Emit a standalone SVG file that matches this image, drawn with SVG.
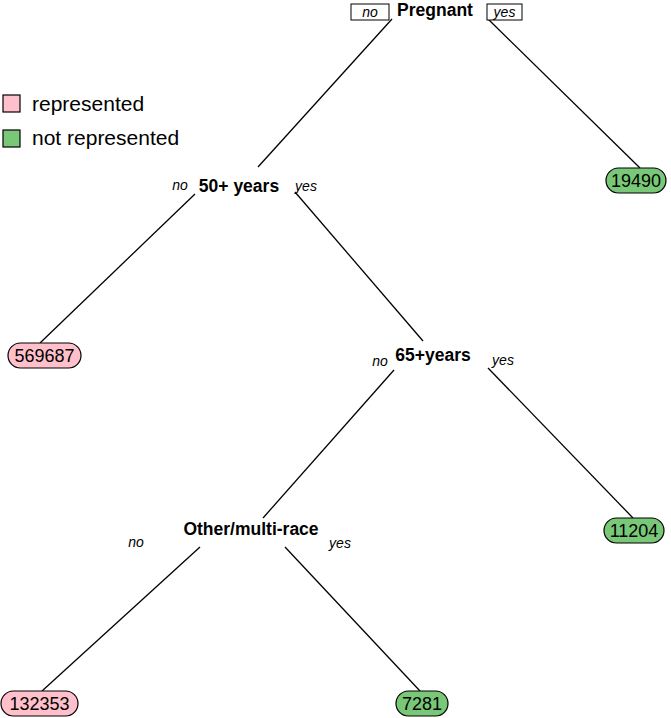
<svg xmlns="http://www.w3.org/2000/svg" width="671" height="718" viewBox="0 0 671 718">
<style>
.split{font-family:"Liberation Sans",Arial,sans-serif;font-weight:bold;font-size:17.5px;fill:#000;text-anchor:middle}
.lab{font-family:"Liberation Sans",Arial,sans-serif;font-style:italic;font-size:14px;fill:#000;text-anchor:middle}
.num{font-family:"Liberation Sans",Arial,sans-serif;font-size:18px;fill:#000;text-anchor:middle}
.leg{font-family:"Liberation Sans",Arial,sans-serif;font-size:21px;fill:#000}
.pink{fill:#FFC0CB;stroke:#000;stroke-width:1.2}
.green{fill:#78C878;stroke:#000;stroke-width:1.2}
.box{fill:#fff;stroke:#000;stroke-width:1}
.edge{stroke:#000;stroke-width:1.3;fill:none}
</style>
<rect width="671" height="718" fill="#fff"/>
<g id="legend">
<rect class="pink" x="3" y="95" width="17" height="17"/>
<text class="leg" x="32" y="111">represented</text>
<rect class="green" x="3" y="130" width="17" height="17"/>
<text class="leg" x="32" y="145">not represented</text>
</g>
<g id="connectors">
<line class="edge" x1="392" y1="19" x2="258" y2="167"/>
<line class="edge" x1="487" y1="18" x2="640" y2="168"/>
<line class="edge" x1="195" y1="194" x2="40" y2="343"/>
<line class="edge" x1="295" y1="192" x2="423" y2="341"/>
<line class="edge" x1="394" y1="370" x2="263" y2="518"/>
<line class="edge" x1="488" y1="368" x2="633" y2="518"/>
<line class="edge" x1="200" y1="547" x2="42" y2="691"/>
<line class="edge" x1="285" y1="547" x2="420" y2="691"/>
</g>
<g id="node-pregnant">
<rect class="box" x="351" y="4" width="38" height="16"/>
<text class="lab" x="370" y="17">no</text>
<text class="split" x="435" y="16">Pregnant</text>
<rect class="box" x="487" y="4" width="35" height="16"/>
<text class="lab" x="504.5" y="17">yes</text>
</g>
<g id="node-50">
<text class="lab" x="180" y="190">no</text>
<text class="split" x="239" y="192">50+ years</text>
<text class="lab" x="306" y="191">yes</text>
</g>
<g id="node-65">
<text class="lab" x="380" y="366">no</text>
<text class="split" x="433" y="361">65+years</text>
<text class="lab" x="503" y="365">yes</text>
</g>
<g id="node-race">
<text class="lab" x="136" y="547">no</text>
<text class="split" x="251" y="535">Other/multi-race</text>
<text class="lab" x="340" y="548">yes</text>
</g>
<g id="leaf-19490">
<rect class="green" x="606" y="168" width="60" height="25" rx="12.5"/>
<text class="num" x="636" y="187">19490</text>
</g>
<g id="leaf-569687">
<rect class="pink" x="8" y="343" width="73" height="25" rx="12.5"/>
<text class="num" x="44.5" y="362">569687</text>
</g>
<g id="leaf-11204">
<rect class="green" x="604" y="518" width="60" height="25" rx="12.5"/>
<text class="num" x="634" y="537">11204</text>
</g>
<g id="leaf-132353">
<rect class="pink" x="1" y="691" width="77" height="25" rx="12.5"/>
<text class="num" x="39.5" y="710">132353</text>
</g>
<g id="leaf-7281">
<rect class="green" x="396" y="691" width="52" height="25" rx="12.5"/>
<text class="num" x="422" y="710">7281</text>
</g>
</svg>
